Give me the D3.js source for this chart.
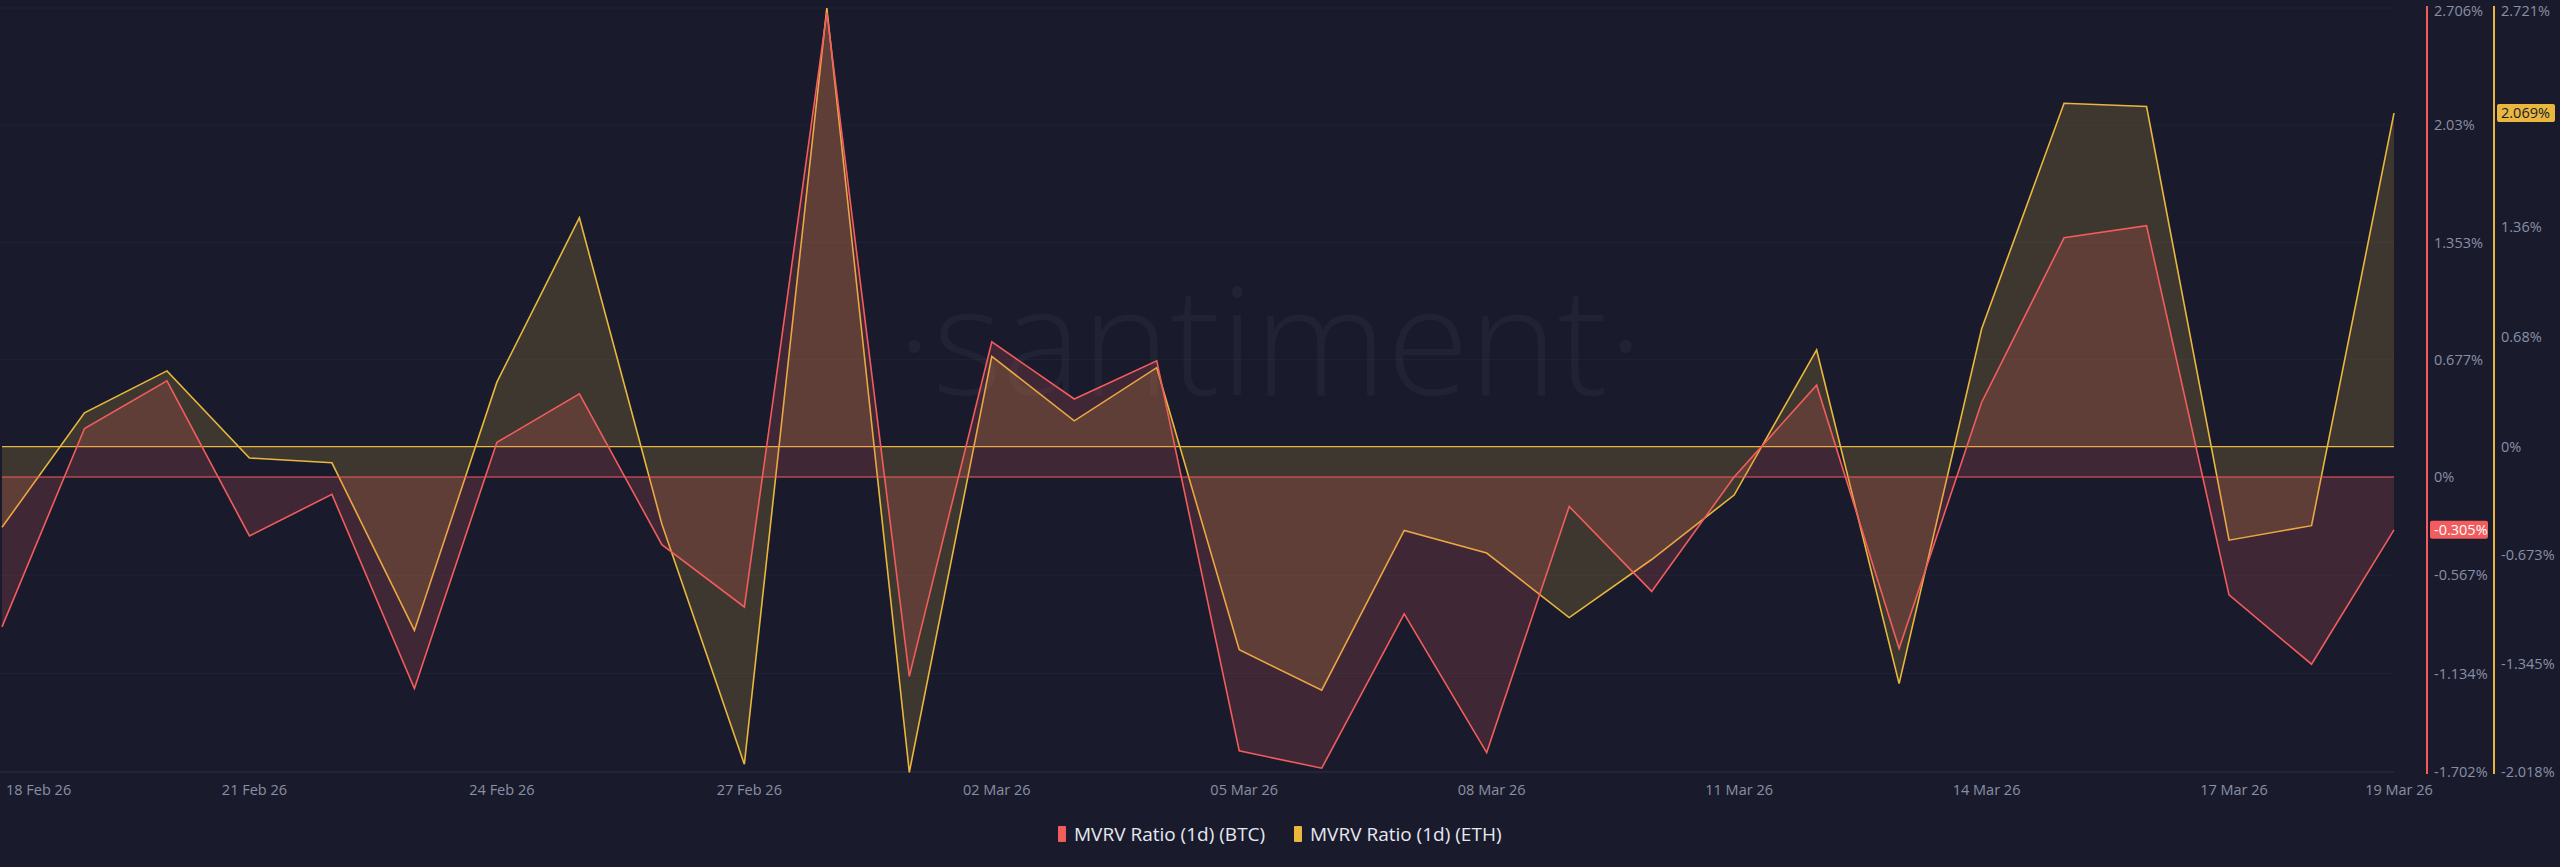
<!DOCTYPE html>
<html><head><meta charset="utf-8">
<script src="https://cdn.jsdelivr.net/npm/d3@7"></script>
<style>html,body{margin:0;background:#191b2d;}svg{display:block;font-family:"Open Sans",Roboto,sans-serif;}</style>
</head><body><svg id="c" width="2560" height="867"></svg>
<script>
const startDate = "2026-02-18";
const btcValues = [-0.865,0.28,0.555,-0.34,-0.10,-1.22,0.20,0.48,-0.39,-0.75,2.68,-1.15,0.78,0.45,0.67,-1.58,-1.68,-0.79,-1.59,-0.17,-0.66,0.0,0.53,-0.99,0.43,1.38,1.45,-0.68,-1.08,-0.305];
const ethValues = [-0.50,0.21,0.47,-0.07,-0.10,-1.14,0.40,1.42,-0.48,-1.97,2.72,-2.02,0.56,0.16,0.49,-1.26,-1.51,-0.52,-0.66,-1.06,-0.70,-0.30,0.60,-1.47,0.73,2.13,2.11,-0.58,-0.49,2.069];
const btcTicks = [2.706,2.03,1.353,0.677,0,-0.567,-1.134,-1.702];
const ethTicks = [2.721,1.36,0.68,0,-0.673,-1.345,-2.018];
const xTickDates = ["2026-02-18","2026-02-21","2026-02-24","2026-02-27","2026-03-02","2026-03-05","2026-03-08","2026-03-11","2026-03-14","2026-03-17","2026-03-19"];
const seriesNames = ["MVRV Ratio (1d) (BTC)","MVRV Ratio (1d) (ETH)"];

const parse = d3.utcParse("%Y-%m-%d");
const t0 = parse(startDate);
const dates = btcValues.map((_,i)=>d3.utcDay.offset(t0,i));
const svg = d3.select("#c");
const x = d3.scaleUtc().domain([dates[0],dates[dates.length-1]]).range([2,2394]);
const yB = d3.scaleLinear().domain([-1.702,2.706]).range([772,8]);
const yE = d3.scaleLinear().domain([-2.018,2.721]).range([772,8]);
const RED="#f25c5c", YEL="#e9b73d";

svg.append("g").selectAll("line").data(btcTicks).join("line")
 .attr("x1",0).attr("x2",2394).attr("y1",d=>yB(d)).attr("y2",d=>yB(d))
 .attr("stroke","#1f2235").attr("stroke-width",1);
svg.append("line").attr("x1",0).attr("x2",2394).attr("y1",772).attr("y2",772).attr("stroke","#2a2d42");

svg.append("text").attr("x",1270).attr("y",395).attr("text-anchor","middle")
 .attr("font-size",150).attr("fill","#ffffff").attr("fill-opacity",0.035).attr("font-weight",300).text("·santiment·");

function drawSeries(vals, y, col){
  const data = vals.map((v,i)=>({d:dates[i],v}));
  svg.append("path").datum(data).attr("fill",col).attr("fill-opacity",0.18)
   .attr("d",d3.area().x(d=>x(d.d)).y0(y(0)).y1(d=>y(d.v)));
  svg.append("line").attr("x1",x(dates[0])).attr("x2",x(dates[dates.length-1]))
   .attr("y1",y(0)).attr("y2",y(0)).attr("stroke",col).attr("stroke-width",1.2);
  svg.append("path").datum(data).attr("fill","none").attr("stroke",col).attr("stroke-width",1.6)
   .attr("d",d3.line().x(d=>x(d.d)).y(d=>y(d.v)));
}
drawSeries(ethValues,yE,YEL);
drawSeries(btcValues,yB,RED);

const lab="#8a8fa3";
svg.append("line").attr("x1",2427).attr("x2",2427).attr("y1",6).attr("y2",774).attr("stroke",RED).attr("stroke-width",2);
svg.append("line").attr("x1",2494).attr("x2",2494).attr("y1",6).attr("y2",774).attr("stroke",YEL).attr("stroke-width",2);
const fmt=v=>(+v.toFixed(3))+"%";
svg.append("g").selectAll("text").data(btcTicks).join("text")
 .attr("x",2434).attr("y",d=>Math.max(yB(d),11)).attr("dy","0.35em").attr("font-size",14.5).attr("fill",lab).text(fmt);
svg.append("g").selectAll("text").data(ethTicks).join("text")
 .attr("x",2501).attr("y",d=>Math.max(yE(d),11)).attr("dy","0.35em").attr("font-size",14.5).attr("fill",lab).text(fmt);
function badge(px,v,y,col,tc){
  svg.append("rect").attr("x",px).attr("y",y(v)-9).attr("width",58).attr("height",18).attr("fill",col).attr("rx",2);
  svg.append("text").attr("x",px+4).attr("y",y(v)).attr("dy","0.35em").attr("font-size",14.5).attr("fill",tc).text(fmt(v));
}
badge(2430,btcValues[btcValues.length-1],yB,RED,"#fff");
badge(2497,ethValues[ethValues.length-1],yE,YEL,"#1a1c2e");

svg.append("g").selectAll("text").data(xTickDates).join("text")
 .attr("x",(d,i)=>i===0?6:x(parse(d))+5).attr("y",790).attr("dy","0.35em")
 .attr("text-anchor",(d,i)=>i===0?"start":"middle").attr("font-size",14.5).attr("fill",lab)
 .text(d=>d3.utcFormat("%d %b %y")(parse(d)));

const lg=svg.append("g").attr("transform","translate(1058,834)");
[[RED,0],[YEL,236]].forEach(([c,dx],i)=>{
  lg.append("rect").attr("x",dx).attr("y",-8).attr("width",8).attr("height",16).attr("fill",c).attr("rx",1);
  lg.append("text").attr("x",dx+16).attr("y",0).attr("dy","0.35em").attr("font-size",19).attr("fill","#e6e8f0").text(seriesNames[i]);
});
</script></body></html>
